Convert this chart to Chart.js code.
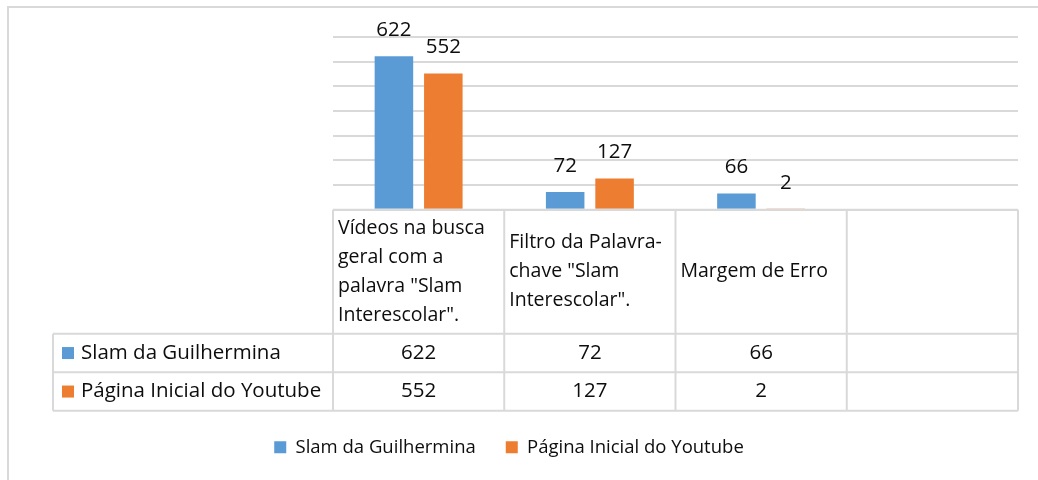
<!DOCTYPE html>
<html>
<head>
<meta charset="utf-8">
<script src="https://cdn.jsdelivr.net/npm/chart.js@4"></script>
<style>
  html, body { margin: 0; padding: 0; background: #fff; }
  #wrap { width: 1038px; height: 480px; }
</style>
</head>
<body>
<div id="wrap"><canvas id="chart" width="1038" height="480"></canvas></div>
<script>
const categories = [
    ['Vídeos na busca', 'geral com a', 'palavra "Slam', 'Interescolar".'],
    ['Filtro da Palavra-', 'chave "Slam', 'Interescolar".'],
    ['Margem de Erro'],
    ['']
];
const seriesNames = ['Slam da Guilhermina', 'Página Inicial do Youtube'];
const slamValues = [622, 72, 66, null];
const youtubeValues = [552, 127, 2, null];
const yTicks = [0, 100, 200, 300, 400, 500, 600, 700];

const FONT = '"Open Sans", "Noto Sans", sans-serif';
const TEXT = '#0d0d0d';
const LINE = '#d9d9d9';
const colors = ['#5b9bd5', '#ed7d31'];

// grey frame around the whole chart
const framePlugin = {
    id: 'frame',
    beforeDraw(chart) {
        const ctx = chart.ctx;
        ctx.save();
        ctx.strokeStyle = LINE;
        ctx.lineWidth = 2;
        ctx.strokeRect(8, 7, 1100, 600);
        ctx.restore();
    }
};

// value labels above bars
const valueLabels = {
    id: 'valueLabels',
    afterDatasetsDraw(chart) {
        const ctx = chart.ctx;
        ctx.save();
        ctx.font = '20.5px ' + FONT;
        ctx.fillStyle = TEXT;
        ctx.textAlign = 'center';
        ctx.textBaseline = 'middle';
        chart.data.datasets.forEach((ds, i) => {
            const meta = chart.getDatasetMeta(i);
            meta.data.forEach((bar, j) => {
                if (ds.data[j] == null) return;
                ctx.fillText(String(ds.data[j]), bar.x, bar.y - 26);
            });
        });
        ctx.restore();
    }
};

// data table under the plot
const dataTable = {
    id: 'dataTable',
    afterDraw(chart) {
        const ctx = chart.ctx;
        const x = chart.scales.x;
        const area = chart.chartArea;
        const n = categories.length;
        const colW = (area.right - area.left) / n;
        const top = area.bottom;
        const headerBottom = top + 124;
        const rowH = 38.5;
        const tableLeft = 53;
        const bottom = headerBottom + rowH * 2;

        ctx.save();
        ctx.strokeStyle = LINE;
        ctx.lineWidth = 2;
        ctx.beginPath();
        // horizontal lines
        ctx.moveTo(area.left, top); ctx.lineTo(area.right, top);
        for (let r = 0; r <= 2; r++) {
            const y = headerBottom + r * rowH;
            ctx.moveTo(tableLeft, y); ctx.lineTo(area.right, y);
        }
        // vertical lines
        for (let c = 0; c <= n; c++) {
            const xx = area.left + c * colW;
            ctx.moveTo(xx, top); ctx.lineTo(xx, bottom);
        }
        ctx.moveTo(tableLeft, headerBottom); ctx.lineTo(tableLeft, bottom);
        ctx.stroke();

        ctx.fillStyle = TEXT;
        ctx.textBaseline = 'middle';

        // header labels
        ctx.font = '19.5px ' + FONT;
        const lineH = 29;
        categories.forEach((lines, c) => {
            const left = area.left + c * colW + 5;
            const midY = (top + headerBottom) / 2;
            const y0 = midY - (lines.length - 1) * lineH / 2;
            ctx.textAlign = 'left';
            lines.forEach((t, k) => ctx.fillText(t, left, y0 + k * lineH));
        });

        // rows
        ctx.font = '20.5px ' + FONT;
        const rows = [slamValues, youtubeValues];
        rows.forEach((vals, r) => {
            const cy = headerBottom + r * rowH + rowH / 2;
            ctx.fillStyle = colors[r];
            ctx.fillRect(62, cy - 6, 12, 12);
            ctx.fillStyle = TEXT;
            ctx.textAlign = 'left';
            ctx.fillText(seriesNames[r], 81, cy);
            ctx.textAlign = 'center';
            vals.forEach((v, c) => {
                if (v == null) return;
                ctx.fillText(String(v), x.getPixelForValue(c), cy);
            });
        });
        ctx.restore();
    }
};

new Chart(document.getElementById('chart'), {
    type: 'bar',
    data: {
        labels: categories,
        datasets: [
            { label: seriesNames[0], data: slamValues, backgroundColor: colors[0], borderWidth: 0 },
            { label: seriesNames[1], data: youtubeValues, backgroundColor: colors[1], borderWidth: 0 }
        ]
    },
    options: {
        responsive: false,
        animation: false,
        layout: { padding: { left: 0, right: 20, top: 37, bottom: 13.5 } },
        datasets: {
            bar: { categoryPercentage: 0.577, barPercentage: 0.78 }
        },
        scales: {
            x: {
                ticks: { display: false },
                grid: { display: false },
                border: { display: false },
                afterFit(scale) { scale.height = 198.2; }
            },
            y: {
                min: yTicks[0],
                max: yTicks[yTicks.length - 1],
                afterBuildTicks(scale) { scale.ticks = yTicks.map(v => ({ value: v })); },
                ticks: { display: false },
                grid: { color: LINE, lineWidth: 2, drawTicks: false },
                border: { display: false },
                afterFit(scale) { scale.width = 333; }
            }
        },
        plugins: {
            legend: {
                position: 'bottom',
                labels: {
                    boxWidth: 12,
                    boxHeight: 12,
                    padding: 30,
                    color: TEXT,
                    font: { family: FONT, size: 18.5 }
                }
            },
            tooltip: { enabled: false }
        }
    },
    plugins: [framePlugin, valueLabels, dataTable]
});
</script>
</body>
</html>
